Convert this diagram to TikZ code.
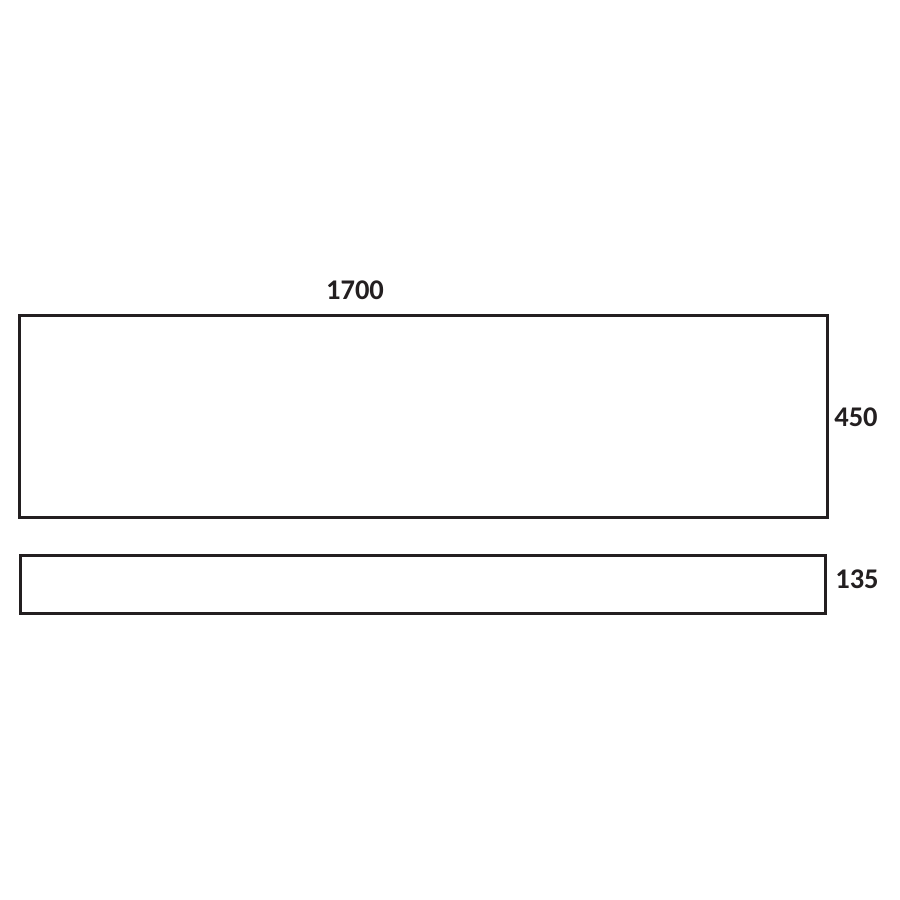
\documentclass[tikz,border=0pt]{standalone}
\usepackage{fontspec}
\setmainfont{Carlito}
\definecolor{ink}{HTML}{231F20}
\begin{document}
\begin{tikzpicture}[x=1pt,y=-1pt,
  panel/.style={draw=ink,line width=3pt},
  dim/.style={text=ink,font=\fontsize{28.5}{31}\selectfont\bfseries,inner sep=0pt}]
\useasboundingbox (0,0) rectangle (900,900);
\draw[panel] (19,315) rectangle (827,517);
\draw[panel] (20,555) rectangle (825,613);
\node[dim] (w) at (355,290) {1700};
\node[dim] (h1) at (856,417) {450};
\node[dim] (h2) at (857,579) {135};
\end{tikzpicture}
\end{document}
